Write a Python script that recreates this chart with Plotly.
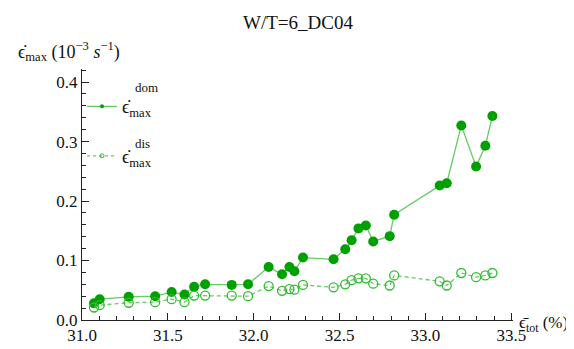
import plotly.graph_objects as go

strain_tot = [31.070, 31.103, 31.272, 31.426, 31.522, 31.597, 31.653, 31.717, 31.872, 31.967,
              32.087, 32.165, 32.208, 32.237, 32.287, 32.465, 32.533, 32.570, 32.610, 32.653,
              32.696, 32.792, 32.818, 33.083, 33.124, 33.209, 33.295, 33.349, 33.390]
rate_dom = [0.028, 0.035, 0.039, 0.040, 0.047, 0.043, 0.056, 0.060, 0.059, 0.060,
            0.089, 0.077, 0.089, 0.082, 0.105, 0.102, 0.119, 0.134, 0.154, 0.159,
            0.132, 0.141, 0.177, 0.226, 0.230, 0.327, 0.258, 0.293, 0.343]
rate_dis = [0.021, 0.025, 0.029, 0.030, 0.035, 0.030, 0.041, 0.041, 0.041, 0.040,
            0.057, 0.049, 0.052, 0.051, 0.059, 0.055, 0.060, 0.067, 0.070, 0.070,
            0.061, 0.058, 0.075, 0.065, 0.058, 0.079, 0.072, 0.075, 0.079]

x_ticks = [31.0, 31.5, 32.0, 32.5, 33.0, 33.5]
y_ticks = [0.0, 0.1, 0.2, 0.3, 0.4]

FONT = "Liberation Serif, serif"
DARK = "#00a000"
LIGHT = "#66cc66"
OPEN = "#33bb33"

fig = go.Figure()
fig.add_trace(go.Scatter(x=strain_tot, y=rate_dom, mode="lines+markers", showlegend=False,
                         line=dict(color=LIGHT, width=1.3),
                         marker=dict(color=DARK, size=10, line=dict(width=0))))
fig.add_trace(go.Scatter(x=strain_tot, y=rate_dis, mode="lines+markers", showlegend=False,
                         line=dict(color=LIGHT, width=1.3, dash="4px,3px"),
                         marker=dict(color=OPEN, size=9, symbol="circle-open",
                                     line=dict(width=1.3))))
# legend-only samples
fig.add_trace(go.Scatter(x=[None], y=[None], mode="lines+markers", name="ϵ̇<sub>max</sub>",
                         legend="legend",
                         line=dict(color=LIGHT, width=1.3),
                         marker=dict(color=DARK, size=4)))
fig.add_trace(go.Scatter(x=[None], y=[None], mode="lines+markers", name="ϵ̇<sub>max</sub>",
                         legend="legend2",
                         line=dict(color=LIGHT, width=1.3, dash="3px,3px"),
                         marker=dict(color=OPEN, size=4, symbol="circle-open",
                                     line=dict(width=1))))

axis_common = dict(showline=True, linecolor="#222", linewidth=1, showgrid=False, zeroline=False,
                   ticks="inside", ticklen=7, tickcolor="#222",
                   tickfont=dict(family=FONT, size=17, color="#111"))

fig.update_xaxes(range=[31.0, 33.51], tickvals=x_ticks, tickformat=".1f",
                 minor=dict(ticks="inside", ticklen=4, dtick=0.1, tick0=31.0, tickcolor="#222"),
                 **axis_common)
fig.update_yaxes(range=[0, 0.422], tickvals=y_ticks, tickformat=".1f",
                 minor=dict(ticks="inside", ticklen=4, dtick=0.02, tick0=0, tickcolor="#222"),
                 **axis_common)

legend_common = dict(font=dict(family=FONT, size=18, color="#111"), bgcolor="rgba(0,0,0,0)",
                     xref="paper", yref="paper", xanchor="left", yanchor="middle",
                     itemwidth=30, tracegroupgap=0)
fig.update_layout(
    width=574, height=349,
    margin=dict(l=74, r=69, t=61, b=25),
    plot_bgcolor="white", paper_bgcolor="white",
    font=dict(family=FONT),
    title=dict(text="W/T=6_DC04", x=290 / 574, xref="container", xanchor="center",
               y=1 - 14 / 349, yanchor="middle",
               font=dict(family=FONT, size=19, color="#111")),
    legend=dict(x=0.0, y=0.85, **legend_common),
    legend2=dict(x=0.0, y=0.653, **legend_common),
    annotations=[
        dict(text="ϵ̇<sub>max</sub> (10<sup>−3</sup> <i>s</i><sup>−1</sup>)", xref="paper", yref="paper",
             x=-66 / 431, y=1.07, xanchor="left", yanchor="middle", showarrow=False,
             font=dict(family=FONT, size=18, color="#111")),
        dict(text="ϵ̄<sub>tot</sub> (%)", xref="paper", yref="paper",
             x=1.01, y=-0.017, xanchor="left", yanchor="middle", showarrow=False,
             font=dict(family=FONT, size=17, color="#111")),
        dict(text="dom", xref="paper", yref="paper", x=0.118, y=0.927, xanchor="left", yanchor="middle",
             showarrow=False, font=dict(family=FONT, size=13, color="#111")),
        dict(text="dis", xref="paper", yref="paper", x=0.118, y=0.705, xanchor="left", yanchor="middle",
             showarrow=False, font=dict(family=FONT, size=13, color="#111")),
    ],
)

fig.write_html("out.html")
